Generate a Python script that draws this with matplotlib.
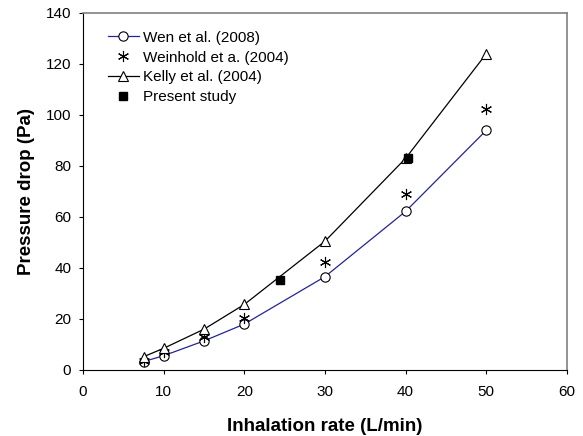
import matplotlib
matplotlib.use('Agg')
import matplotlib.pyplot as plt

plt.rcParams['font.family'] = ['Liberation Sans', 'DejaVu Sans']

# data
rate = [7.5, 10, 15, 20, 30, 40, 50]
wen = [3.3, 5.6, 11.4, 18.0, 36.6, 62.2, 94.0]
weinhold = [3.6, 7.0, 13.1, 20.4, 42.2, 69.2, 102.2]
kelly = [5.2, 8.5, 16.0, 25.7, 50.5, 83.0, 124.0]
present_x = [24.4, 40.3]
present_y = [35.1, 83.2]

fig = plt.figure(figsize=(5.83, 4.36), dpi=100)
ax = fig.add_axes([0.1424, 0.1514, 0.830, 0.8188])

ax.plot(rate, wen, color='#23239a', lw=0.9, marker='o', ms=6.7, mfc='white', mec='black', mew=0.8,
        label='Wen et al. (2008)')
ax.plot(rate, weinhold, ls='none', marker=(6, 2, 0), ms=8, mec='black', mew=0.8,
        label='Weinhold et a. (2004)')
ax.plot(rate, kelly, color='black', lw=0.9, marker='^', ms=6.7, mfc='white', mec='black', mew=0.8,
        label='Kelly et al. (2004)')
ax.plot(present_x, present_y, ls='none', marker='s', ms=5.3, color='black',
        label='Present study')

ax.set_xlim(0, 60)
ax.set_ylim(0, 140)
ax.set_xticks(range(0, 61, 10))
ax.set_yticks(range(0, 141, 20))
ax.tick_params(direction='out', length=3, labelsize=11, top=False, right=False)
ax.tick_params(axis='x', pad=7.5)
ax.tick_params(axis='y', pad=5.5)
for s in ['top', 'right']:
    ax.spines[s].set_color('#808080')
    ax.spines[s].set_linewidth(1.2)

ax.set_xlabel('Inhalation rate (L/min)', fontsize=13.5, fontweight='bold', labelpad=14)
ax.set_ylabel('Pressure drop (Pa)', fontsize=13.5, fontweight='bold', labelpad=8)

ax.legend(loc='upper left', frameon=False, fontsize=11, handlelength=2.0,
          bbox_to_anchor=(0.052, 0.95), borderaxespad=0, borderpad=0,
          labelspacing=0.38, handletextpad=0.3)

fig.savefig('out.png', dpi=100)
